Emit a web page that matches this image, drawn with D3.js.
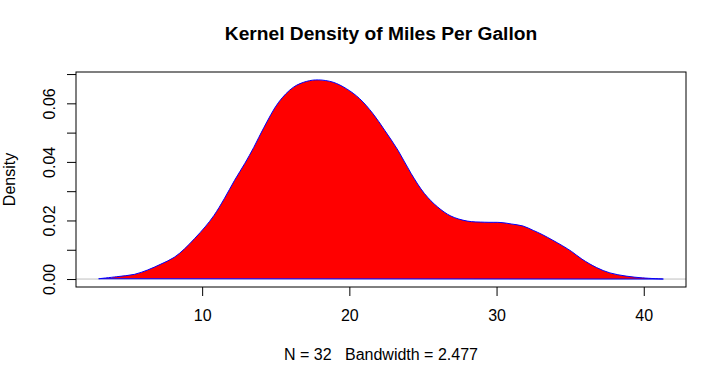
<!DOCTYPE html>
<html>
  <head>
    <meta charset="utf-8" />
    <title>Kernel Density of Miles Per Gallon</title>
    <script src="https://d3js.org/d3.v7.min.js"></script>
    <style>
      body { margin: 0; background: #fff; }
      svg { font-family: "Liberation Sans", Arial, sans-serif; }
    </style>
  </head>
  <body>
    <svg id="chart" width="726" height="371"></svg>

    <script>
      // density curve (mpg, density)
      var mpg = [2.97, 4.2, 5.4, 6.3, 7.2, 8.1, 8.8, 9.5, 10.2, 10.8, 11.5, 12.2,
        12.9, 13.5, 14.2, 15.2, 16.2, 17.1, 17.9, 18.9, 19.8, 20.7, 21.6, 22.4,
        23.3, 24.2, 25.1, 26.0, 26.9, 28.0, 29.2, 30.3, 31.0, 31.8, 32.5, 33.1,
        33.8, 34.5, 35.1, 35.8, 36.8, 37.7, 38.8, 39.9, 41.33];
      var density = [0.0001, 0.0008, 0.0016, 0.0031, 0.0051, 0.0074, 0.0103,
        0.0139, 0.0178, 0.0217, 0.0274, 0.0337, 0.0395, 0.0449, 0.0518, 0.0604,
        0.0655, 0.0675, 0.068, 0.0672, 0.065, 0.0616, 0.0565, 0.0508, 0.044,
        0.036, 0.0292, 0.0246, 0.0215, 0.0198, 0.0194, 0.0193, 0.0188, 0.0181,
        0.0166, 0.0152, 0.0133, 0.0113, 0.0094, 0.0068, 0.0039, 0.0021, 0.001,
        0.0004, 0.0];

      var xTicks = [10, 20, 30, 40];
      var yTicks = [0, 0.01, 0.02, 0.03, 0.04, 0.05, 0.06, 0.07];
      var yLabels = [0, 0.02, 0.04, 0.06];

      var title = "Kernel Density of Miles Per Gallon";
      var subtitle = "N = 32   Bandwidth = 2.477";

      var pLeft = 76, pRight = 686, pTop = 72, pBottom = 287;

      var x = d3.scaleLinear().domain([1.43, 42.87]).range([pLeft, pRight]);
      var y = d3.scaleLinear().domain([-0.00272, 0.0707]).range([pBottom, pTop]);

      var svg = d3.select("#chart");

      var pts = mpg.map(function (m, i) {
        return [m, density[i]];
      });

      // zero line
      svg.append("line")
        .attr("x1", pLeft).attr("x2", pRight)
        .attr("y1", y(0)).attr("y2", y(0))
        .style("stroke", "#bebebe")
        .style("stroke-width", 1);

      var line = d3.line()
        .x(function (d) { return x(d[0]); })
        .y(function (d) { return y(Math.max(0, d[1])); })
        .curve(d3.curveCatmullRom.alpha(0.5));

      svg.append("path")
        .attr("d", line(pts) + "Z")
        .style("fill", "#ff0000")
        .style("stroke", "#0000ff")
        .style("stroke-width", 1);

      // box
      svg.append("rect")
        .attr("x", pLeft).attr("y", pTop)
        .attr("width", pRight - pLeft).attr("height", pBottom - pTop)
        .style("fill", "none")
        .style("stroke", "#000")
        .style("stroke-width", 1);

      // x axis
      var xAxis = d3.axisBottom(x)
        .tickValues(xTicks)
        .tickSize(9)
        .tickPadding(14)
        .tickFormat(d3.format("d"));
      var gx = svg.append("g")
        .attr("transform", "translate(0," + pBottom + ")")
        .call(xAxis)
        .attr("font-size", 16)
        .attr("font-family", "Liberation Sans, Arial, sans-serif");
      gx.select(".domain").remove();
      gx.selectAll("text").attr("fill", "#000");

      // y axis
      var yAxis = d3.axisLeft(y)
        .tickValues(yTicks)
        .tickSize(9)
        .tickFormat(function (d) {
          return yLabels.some(function (v) { return Math.abs(v - d) < 1e-9; })
            ? d3.format(".2f")(d) : "";
        });
      var gy = svg.append("g")
        .attr("transform", "translate(" + pLeft + ",0)")
        .call(yAxis)
        .attr("font-size", 16)
        .attr("font-family", "Liberation Sans, Arial, sans-serif");
      gy.select(".domain").remove();
      gy.selectAll("text")
        .attr("x", null).attr("dy", null)
        .attr("text-anchor", "middle")
        .attr("transform", "translate(-21,0) rotate(-90)")
        .attr("y", 0)
        .attr("fill", "#000");

      // titles
      svg.append("text")
        .attr("x", (pLeft + pRight) / 2).attr("y", 40)
        .attr("text-anchor", "middle")
        .style("font-size", "19.2px")
        .style("font-weight", "bold")
        .text(title);

      svg.append("text")
        .attr("x", (pLeft + pRight) / 2).attr("y", 360)
        .attr("text-anchor", "middle")
        .style("font-size", "16px")
        .style("white-space", "pre")
        .text(subtitle);

      svg.append("text")
        .attr("transform", "translate(15," + (pTop + pBottom) / 2 + ") rotate(-90)")
        .attr("text-anchor", "middle")
        .style("font-size", "16px")
        .text("Density");
    </script>
  </body>
</html>
